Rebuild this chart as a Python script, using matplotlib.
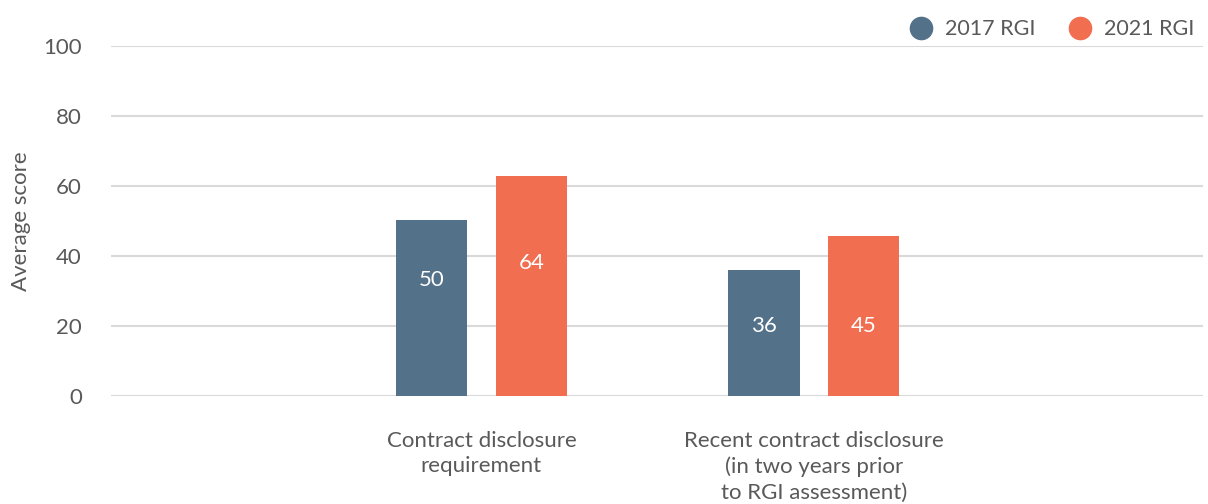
import matplotlib.pyplot as plt
import numpy as np
from matplotlib.lines import Line2D

# data
categories = ["Contract disclosure\nrequirement",
              "Recent contract disclosure\n(in two years prior\nto RGI assessment)"]
series_names = ["2017 RGI", "2021 RGI"]
scores_2017 = [50.4, 36.1]
scores_2021 = [63.0, 45.8]
labels_2017 = ["50", "36"]
labels_2021 = ["64", "45"]
yticks = [0, 20, 40, 60, 80, 100]

BLUE = "#537189"
ORANGE = "#F26E50"
TEXT = "#595959"
GRID = "#d9d9d9"
FS = 16

plt.rcParams["font.family"] = ["Lato", "DejaVu Sans"]

fig = plt.figure(figsize=(12.08, 5.04), dpi=100)
ax = fig.add_axes([111 / 1208, 1 - 396 / 504, (1203 - 111) / 1208, (396 - 46) / 504])

x = np.arange(len(categories))
w = 0.214
off = 0.15
ax.bar(x - off, scores_2017, w, color=BLUE, zorder=3)
ax.bar(x + off, scores_2021, w, color=ORANGE, zorder=3)

# labels sit part-way up the bars, as in the reference
label_y_2017 = [33, 20]
label_y_2021 = [38, 20]
for xi, lab, ly in zip(x - off, labels_2017, label_y_2017):
    ax.text(xi, ly, lab, ha="center", va="center", color="white", fontsize=FS, zorder=4)
for xi, lab, ly in zip(x + off, labels_2021, label_y_2021):
    ax.text(xi, ly, lab, ha="center", va="center", color="white", fontsize=FS, zorder=4)

ax.set_xlim(-1.114, 2.170)
ax.set_ylim(0, 100)
ax.set_yticks(yticks)
ax.yaxis.grid(True, color=GRID, lw=1.5, zorder=0)
ax.set_axisbelow(True)
for s in ax.spines.values():
    s.set_visible(False)
ax.tick_params(axis="y", length=0, pad=21, labelsize=FS, labelcolor=TEXT)
ax.tick_params(axis="x", length=0, pad=25, labelsize=FS, labelcolor=TEXT)
ax.set_xticks(x)
ax.set_xticklabels(categories, linespacing=1.35)
ax.set_ylabel("Average score", fontsize=FS, color=TEXT, labelpad=9)

handles = [Line2D([], [], marker="o", ls="", markersize=16, color=c) for c in (BLUE, ORANGE)]
leg = ax.legend(handles, series_names, ncol=2, loc="lower right",
                bbox_to_anchor=(1.0, 0.995), frameon=False, fontsize=15.5,
                handletextpad=0.6, columnspacing=1.6, borderaxespad=0,
                handlelength=1.0)
for t in leg.get_texts():
    t.set_color(TEXT)

fig.savefig("out.png", dpi=100)
